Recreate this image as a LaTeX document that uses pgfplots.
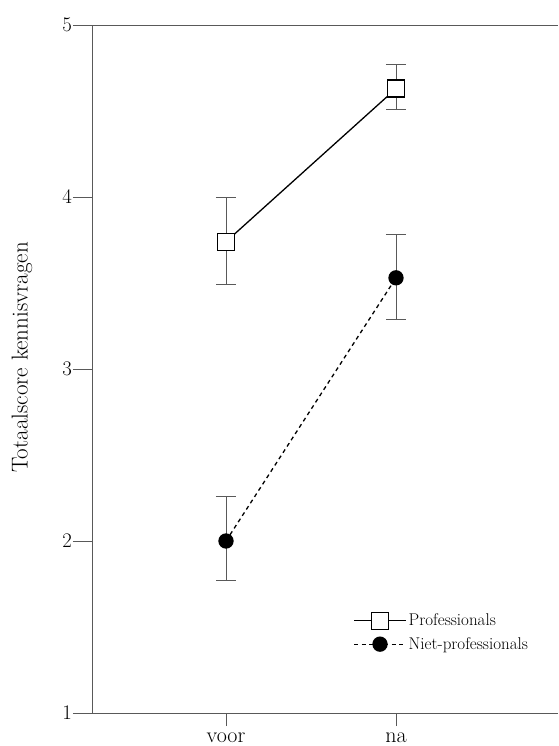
\documentclass[border=0pt]{standalone}
\usepackage{pgfplots}
\pgfplotsset{compat=1.18}
\definecolor{axisgray}{gray}{0.35}
\begin{document}
\begin{tikzpicture}[x=1pt,y=1pt]
\useasboundingbox (0,0) rectangle (558,746);
\begin{axis}[
  at={(92pt,33pt)}, anchor=south west,
  scale only axis, width=466pt, height=688pt,
  xmin=0.2118, xmax=2.953, ymin=1, ymax=5,
  axis line style={draw=none},
  xtick={1,2}, xticklabels={voor,na},
  ytick={1,2,3,4,5},
  xtick pos=left, ytick pos=left,
  tick align=outside, major tick length=19pt,
  x tick style={/pgfplots/major tick length=13pt},
  tick style={draw=axisgray, line width=0.9pt},
  yticklabel style={font=\fontsize{22}{26}\selectfont, inner sep=1pt},
  xticklabel style={font=\fontsize{22}{26}\selectfont, inner sep=1pt},
  ylabel={Totaalscore kennisvragen},
  ylabel style={font=\fontsize{23}{27}\selectfont, at={(axis description cs:-0.150,0.517)}, anchor=center},
  legend style={at={(axis description cs:0.554,0.150)}, anchor=north west,
    draw=none, fill=none, font=\fontsize{17}{20}\selectfont, row sep=6pt},
  legend cell align=left,
  legend image code/.code={\draw[mark repeat=2,mark phase=2,#1] plot coordinates {(0pt,0pt)(26pt,0pt)(52pt,0pt)};},
  clip=false,
]
% axis frame: left, bottom, top (no right line)
\draw[axisgray, line width=0.8pt] (axis description cs:0,0) -- (axis description cs:0,1);
\draw[axisgray, line width=0.8pt] (axis description cs:0,0) -- (axis description cs:1,0);
\draw[axisgray, line width=0.8pt] (axis description cs:0,1) -- (axis description cs:1,1);
\addplot[black, line width=1.3pt, mark=square*, mark size=8.5pt,
  mark options={fill=white, solid, line width=1.3pt},
  error bars/.cd, y dir=both, y explicit,
  error bar style={axisgray, line width=0.7pt, solid},
  error mark options={rotate=90, mark size=10pt, axisgray, line width=0.8pt}]
  coordinates {
    (1,3.74) += (0,0.26) -= (0,0.25)
    (2,4.63) += (0,0.14) -= (0,0.12)
  };
\addlegendentry{Professionals}
\addplot[black, line width=1.3pt, dash pattern=on 4pt off 3.5pt, mark=*, mark size=7pt,
  mark options={fill=black, solid},
  error bars/.cd, y dir=both, y explicit,
  error bar style={axisgray, line width=0.7pt, solid},
  error mark options={rotate=90, mark size=10pt, axisgray, line width=0.8pt}]
  coordinates {
    (1,2.00) += (0,0.26) -= (0,0.23)
    (2,3.53) += (0,0.25) -= (0,0.24)
  };
\addlegendentry{Niet-professionals}
\end{axis}
\end{tikzpicture}
\end{document}
